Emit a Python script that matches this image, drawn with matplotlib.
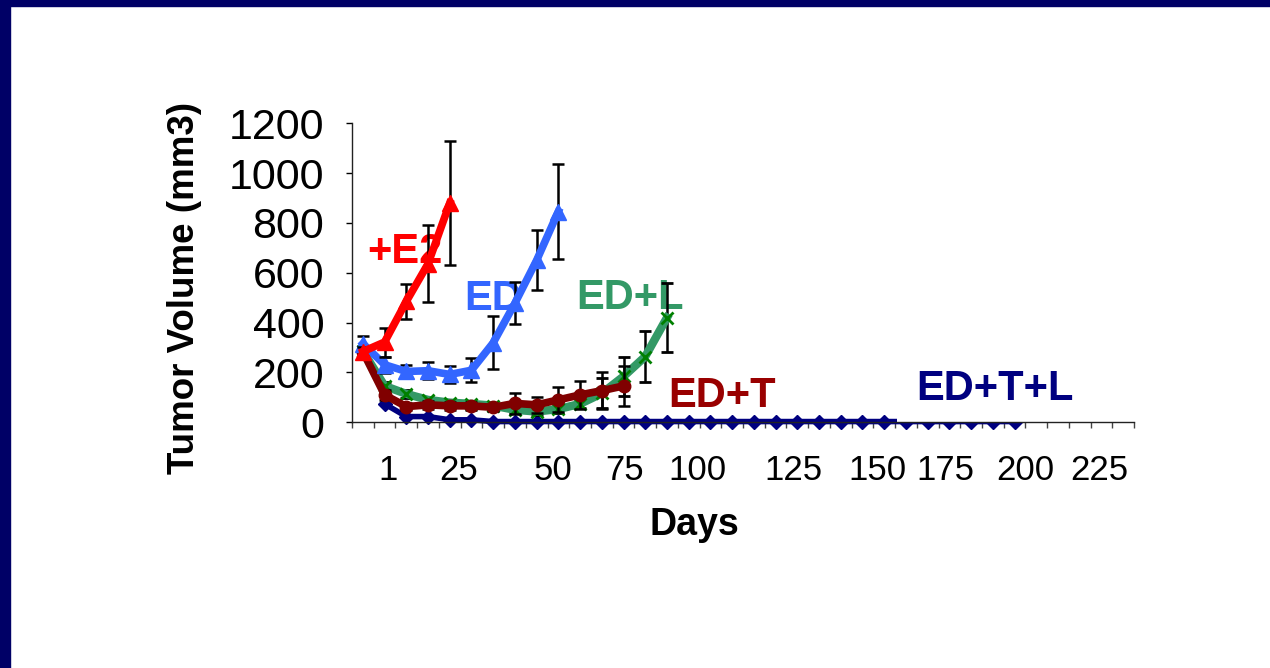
import matplotlib
matplotlib.use("Agg")
import matplotlib.pyplot as plt
from matplotlib.patches import Rectangle

plt.rcParams['font.family'] = ['Liberation Sans', 'DejaVu Sans']

# Data, one value per category slot
e2 = [284, 322, 485, 636, 880]
e2_err = [20, 58, 70, 155, 250]

ed = [316, 231, 204, 207, 192, 209, 319, 478, 650, 846]
ed_err = [32, 32, 25, 34, 35, 49, 106, 84, 120, 189]

ed_l = [286, 146, 114, 90, 79, 74, 67, 50, 43, 53, 74, 116, 184, 264, 420]
ed_l_err = [20, 15, 15, 12, 12, 12, 12, 12, 12, 15, 15, 60, 78, 101, 138]

ed_t = [284, 110, 63, 70, 66, 66, 60, 76, 70, 90, 110, 127, 146]
ed_t_err = [20, 20, 15, 15, 15, 15, 15, 43, 33, 50, 56, 73, 80]

# ED+T+L starts at the second slot
ed_tl = [74, 23, 23, 10, 10] + [3] * 25

n_slots = 36
day_labels = ['1', '25', '50', '75', '100', '125', '150', '175', '200', '225']
day_label_pos = [1.66, 4.93, 9.25, 12.57, 15.88, 20.3, 24.2, 27.3, 31.0, 34.4]

fig = plt.figure(figsize=(12.7, 6.68), dpi=100)
# navy frame on top and left
fig.patches.append(Rectangle((0, 1 - 6 / 668), 1, 6 / 668, transform=fig.transFigure,
                             color='#000066', zorder=0))
fig.patches.append(Rectangle((0, 0), 10 / 1270, 1, transform=fig.transFigure,
                             color='#000066', zorder=0))

ax = fig.add_axes([352 / 1270, 1 - 422.3 / 668, (1134 - 352) / 1270, (422.3 - 123.3) / 668])
ax.xaxis.remove_overlapping_locs = False


def xs(vals, start=0):
    return [start + i + 0.5 for i in range(len(vals))]


ebar = dict(ecolor='black', elinewidth=1.8, capsize=4, capthick=1.8)

ax.plot(xs(ed_tl, 1), ed_tl, color='#000080', lw=4, marker='D', ms=7,
        clip_on=False, zorder=3)
ax.errorbar(xs(ed_l), ed_l, yerr=ed_l_err, color='#339966', lw=6, marker='x',
            ms=8, mec='#008000', mew=2, clip_on=False, zorder=4, **ebar)
ax.errorbar(xs(ed_t), ed_t, yerr=ed_t_err, color='#800000', lw=5.5, marker='o',
            ms=9, clip_on=False, zorder=5, **ebar)
ax.errorbar(xs(ed), ed, yerr=ed_err, color='#3366FF', lw=5.5, marker='^',
            ms=12, clip_on=False, zorder=6, **ebar)
ax.errorbar(xs(e2), e2, yerr=e2_err, color='#FF0000', lw=5.5, marker='^',
            ms=12, clip_on=False, zorder=7, **ebar)

# series labels
lab = dict(fontsize=30, fontweight='bold', ha='center', va='center')
ax.text(2.44, 685, '+E2', color='#FF0000', zorder=1, **lab)
ax.text(6.5, 495, 'ED', color='#3366FF', zorder=1, **lab)
ax.text(12.8, 500, 'ED+L', color='#339966', zorder=1, **lab)
ax.text(17.05, 106, 'ED+T', color='#990000', zorder=1, **lab)
ax.add_patch(Rectangle((25.1, 0.5), 8.9, 230, facecolor='white', edgecolor='none', zorder=8))
ax.text(29.6, 134, 'ED+T+L', color='#000080', zorder=9, **lab)

ax.set_xlim(0, n_slots)
ax.set_ylim(0, 1200)
ax.set_yticks(range(0, 1201, 200))
ax.tick_params(axis='y', direction='out', length=4, width=1, labelsize=31, pad=16)
ax.set_xticks(range(0, n_slots + 1))
ax.set_xticklabels([])
ax.tick_params(axis='x', which='major', direction='out', length=4, width=1, color='#444444')
ax.set_xticks(day_label_pos, minor=True)
ax.set_xticklabels(day_labels, minor=True)
ax.tick_params(axis='x', which='minor', length=0, labelsize=25, pad=23)

for s in ['top', 'right']:
    ax.spines[s].set_visible(False)
for s in ['left', 'bottom']:
    ax.spines[s].set_linewidth(1)
    ax.spines[s].set_color('#222222')
    ax.spines[s].set_zorder(10)

fig.text(694 / 1270, 1 - 525 / 668, 'Days', fontsize=27, fontweight='bold',
         ha='center', va='center')
fig.text(184 / 1270, 1 - 288 / 668, 'Tumor Volume (mm3)', fontsize=26.5,
         fontweight='bold', rotation=90, ha='center', va='center')

fig.savefig('out.png', dpi=100)
